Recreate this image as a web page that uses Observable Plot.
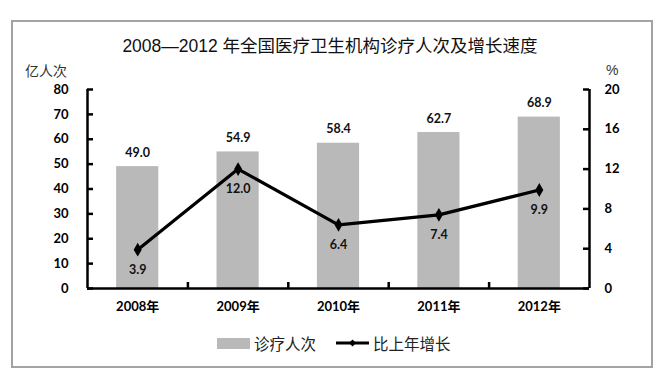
<!DOCTYPE html>
<html>
<head>
<meta charset="utf-8">
<script src="https://cdn.jsdelivr.net/npm/d3@7"></script>
<script src="https://cdn.jsdelivr.net/npm/@observablehq/plot@0.6"></script>
<style>
  html, body { margin: 0; padding: 0; background: #fff; }
  #wrap { position: relative; width: 667px; height: 391px; overflow: hidden; }
  #wrap svg { position: absolute; left: 0; top: 0; }
  .abs { position: absolute; white-space: nowrap; }
  #border { left: 11px; top: 20px; width: 642px; height: 348px; border: 2px solid #a3a3a3; box-sizing: border-box; pointer-events: none; }
  #title { left: 0; width: 660px; top: 35px; text-align: center; font-family: "Liberation Sans", "Noto Sans CJK SC", sans-serif; font-size: 17.5px; color: #111; line-height: 22px; }
  .unit { font-family: "Noto Sans CJK SC", sans-serif; font-size: 14px; color: #333; line-height: 16px; top: 62px; }
  #legend { left: 0; width: 667px; top: 333px; font-family: "Noto Sans CJK SC", sans-serif; font-size: 15.5px; color: #222; line-height: 20px; }
  #legend .item { position: absolute; top: 0; display: flex; align-items: center; height: 20px; }
</style>
</head>
<body>
<div id="wrap">
  <div id="chart"></div>
  <div id="border" class="abs"></div>
  <div id="title" class="abs">2008—2012 年全国医疗卫生机构诊疗人次及增长速度</div>
  <div class="abs unit" style="left:25px;">亿人次</div>
  <div class="abs unit" style="left:606px;font-family:'Liberation Sans',sans-serif;font-size:14px;">%</div>
  <div id="legend" class="abs">
    <div class="item" style="left:217px;"><span style="display:inline-block;width:33px;height:11px;background:#b9b9b9;margin-right:4px;"></span><span>诊疗人次</span></div>
    <div class="item" style="left:336px;"><svg width="33" height="12" style="position:static;margin-right:4px;"><line x1="0" y1="6" x2="33" y2="6" stroke="#000" stroke-width="3"/><path d="M16.5,2.5L20,6L16.5,9.5L13,6Z" fill="#000"/></svg><span>比上年增长</span></div>
  </div>
</div>
<script>
const years = ["2008", "2009", "2010", "2011", "2012"];
const visits = [49.0, 54.9, 58.4, 62.7, 68.9];   // 亿人次
const growth = [3.9, 12.0, 6.4, 7.4, 9.9];       // %
const leftTicks = [0, 10, 20, 30, 40, 50, 60, 70, 80];
const rightTicks = [0, 4, 8, 12, 16, 20];

const data = years.map((year, i) => ({i, year, visits: visits[i], growth: growth[i]}));
const k = 80 / 20; // right axis (0–20%) mapped onto left axis (0–80)

const W = 667, H = 391;
const mL = 87, mR = 78, mT = 89, mB = 103;
const plotW = W - mL - mR, plotH = H - mT - mB;
const halfBar = 0.21;

const chart = Plot.plot({
  width: W,
  height: H,
  marginLeft: mL,
  marginRight: mR,
  marginTop: mT,
  marginBottom: mB,
  style: {background: "transparent", fontFamily: "Lato, 'Noto Sans CJK SC', sans-serif", color: "#000"},
  x: {type: "linear", domain: [-0.5, years.length - 0.5], axis: null},
  y: {domain: [0, 80], axis: null},
  marks: [
    Plot.rectY(data, {x1: d => d.i - halfBar, x2: d => d.i + halfBar, y: "visits", fill: "#b9b9b9"}),
    Plot.line(data, {x: "i", y: d => d.growth * k, stroke: "#000", strokeWidth: 3.2}),
    Plot.dot(data, {x: "i", y: d => d.growth * k, symbol: "diamond", r: 4.2, fill: "#000", stroke: null}),
    // axis lines
    Plot.ruleX([-0.5, years.length - 0.5], {stroke: "#000", strokeWidth: 2.5}),
    Plot.ruleY([0], {stroke: "#000", strokeWidth: 2.5}),
    // inward ticks
    Plot.ruleY(leftTicks, {stroke: "#000", strokeWidth: 2.5, insetRight: plotW - 6}),
    Plot.ruleY(rightTicks, {y: d => d * k, stroke: "#000", strokeWidth: 2.5, insetLeft: plotW - 6}),
    Plot.ruleX(d3.range(0.5, years.length - 1), {stroke: "#000", strokeWidth: 2.5, insetTop: plotH - 6}),
    // axis labels
    Plot.axisY(leftTicks, {anchor: "left", tickSize: 0, tickPadding: 19, fontSize: 13, fontWeight: "bold", label: null}),
    Plot.axisY(rightTicks.map(d => d * k), {anchor: "right", tickSize: 0, tickPadding: 15, tickFormat: d => d / k, fontSize: 13, fontWeight: "bold", label: null}),
    Plot.axisX(d3.range(years.length), {anchor: "bottom", tickSize: 0, tickPadding: 13, tickFormat: i => years[i] + "年", fontSize: 13, fontWeight: "bold", label: null}),
    // value labels
    Plot.text(data, {x: "i", y: "visits", text: d => d.visits.toFixed(1), dy: -14, fontSize: 12.5, fontWeight: "bold", fill: "#111"}),
    Plot.text(data, {x: "i", y: d => d.growth * k, text: d => d.growth.toFixed(1), dy: 20, fontSize: 12.5, fontWeight: "bold", fill: "#111"})
  ]
});
document.getElementById("chart").appendChild(chart);
</script>
</body>
</html>
